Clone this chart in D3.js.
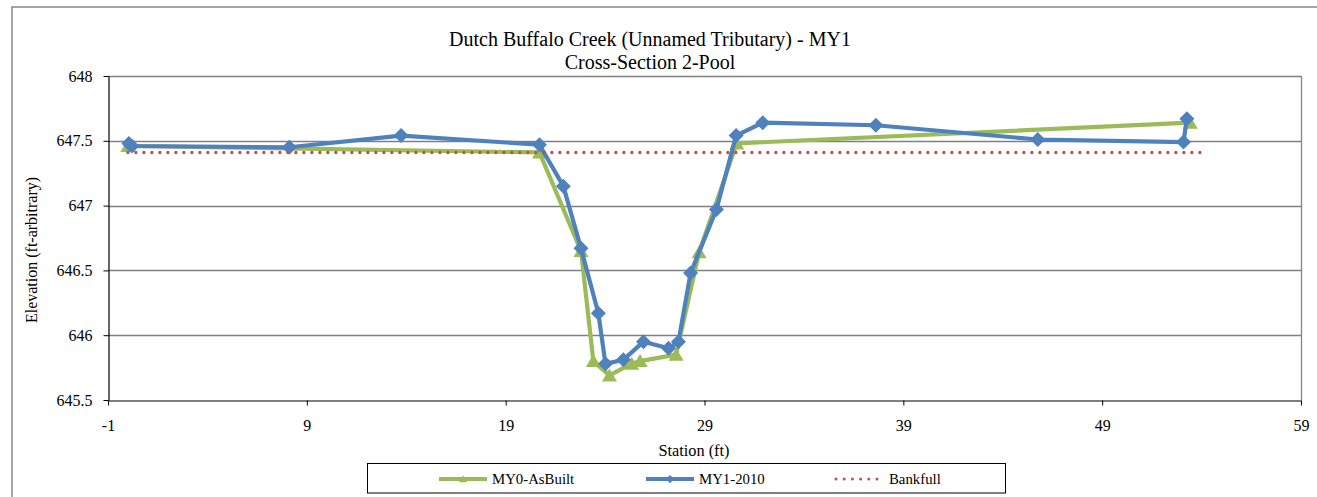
<!DOCTYPE html>
<html lang="en">
<head>
    <meta charset="UTF-8">
    <title>Cross-Section 2-Pool</title>
    <style>
        body{
            margin: 0;
            overflow: hidden;
            background: #fff;
        }
        text{
            font-family: "Liberation Serif", "Times New Roman", serif;
            fill: #000;
        }
    </style>
</head>
<body>
    <script src="https://d3js.org/d3.v7.min.js"></script>
    <script>
        // chart values
        const asBuiltStation = [0.0, 20.7, 22.79, 23.41, 24.22, 25.34, 25.76, 27.57, 28.73, 30.62, 53.43];
        const asBuiltElev    = [647.46, 647.41, 646.65, 645.80, 645.69, 645.78, 645.80, 645.85, 646.64, 647.48, 647.64];

        const my1Station = [0.05, 0.2, 8.12, 13.74, 20.7, 21.9, 22.79, 23.66, 24.02, 24.92, 25.93, 27.19, 27.69, 28.3, 29.6, 30.59, 31.93, 37.62, 45.76, 53.09, 53.26];
        const my1Elev    = [647.48, 647.46, 647.45, 647.54, 647.47, 647.15, 646.67, 646.17, 645.78, 645.81, 645.95, 645.90, 645.95, 646.48, 646.97, 647.54, 647.64, 647.62, 647.51, 647.49, 647.67];

        const bankfullStation = [0.0, 54.0];
        const bankfullElev    = [647.41, 647.41];

        const xTicks = [-1, 9, 19, 29, 39, 49, 59];
        const yTicks = [645.5, 646, 646.5, 647, 647.5, 648];

        const titleLines = ["Dutch Buffalo Creek (Unnamed Tributary) - MY1", "Cross-Section 2-Pool"];

        const width = 1317, height = 497;
        const plot = {left: 108, right: 1301, top: 76, bottom: 400};

        const svg = d3.select('body').append('svg')
            .attr('width', width)
            .attr('height', height);

        // outer chart border (runs past the right/bottom edge like the source)
        svg.append('rect')
            .attr('x', 12).attr('y', 7)
            .attr('width', 1320).attr('height', 500)
            .attr('fill', 'none')
            .attr('stroke', '#868686')
            .attr('stroke-width', 1.5);

        const x = d3.scaleLinear().domain([-1, 59]).range([plot.left, plot.right]);
        const y = d3.scaleLinear().domain([645.5, 648]).range([plot.bottom, plot.top]);

        // gridlines
        svg.append('g')
            .selectAll('line')
            .data(yTicks.filter(d => d > 645.5))
            .enter().append('line')
            .attr('x1', plot.left).attr('x2', plot.right)
            .attr('y1', d => Math.round(y(d)) + 0.5)
            .attr('y2', d => Math.round(y(d)) + 0.5)
            .attr('stroke', '#7f7f7f')
            .attr('stroke-width', 1.3);

        // right border of plot area
        svg.append('line')
            .attr('x1', plot.right + 0.5).attr('x2', plot.right + 0.5)
            .attr('y1', plot.top).attr('y2', plot.bottom)
            .attr('stroke', '#868686')
            .attr('stroke-width', 1.3);

        // axes
        const xAxis = svg.append('g')
            .attr('transform', `translate(0,${plot.bottom + 0.5})`)
            .call(d3.axisBottom(x).tickValues(xTicks).tickSize(5).tickSizeOuter(0).tickPadding(14).tickFormat(d => d));
        const yAxis = svg.append('g')
            .attr('transform', `translate(${plot.left + 0.5},0)`)
            .call(d3.axisLeft(y).tickValues(yTicks).tickSize(5).tickSizeOuter(0).tickPadding(11).tickFormat(d => d));

        [xAxis, yAxis].forEach(a => {
            a.select('.domain').attr('stroke', '#000').attr('stroke-width', 1.2);
            a.selectAll('.tick line').attr('stroke', '#000');
            a.selectAll('.tick text')
                .style('font-family', '"Liberation Serif", "Times New Roman", serif')
                .style('font-size', '16px')
                .attr('fill', '#000');
        });

        // titles
        svg.append('text')
            .attr('x', 650).attr('y', 46)
            .attr('text-anchor', 'middle')
            .style('font-size', '20px')
            .text(titleLines[0]);
        svg.append('text')
            .attr('x', 650).attr('y', 68.5)
            .attr('text-anchor', 'middle')
            .style('font-size', '20px')
            .text(titleLines[1]);

        svg.append('text')
            .attr('x', 694).attr('y', 456)
            .attr('text-anchor', 'middle')
            .style('font-size', '16.3px')
            .text('Station (ft)');

        svg.append('text')
            .attr('transform', `translate(37,${(plot.top + plot.bottom) / 2 + 12}) rotate(-90)`)
            .attr('text-anchor', 'middle')
            .style('font-size', '16px')
            .text('Elevation (ft-arbitrary)');

        // series
        const line = d3.line().x(d => x(d[0])).y(d => y(d[1]));
        const triangle = 'M0,-7L7.5,6L-7.5,6Z';
        const diamond = 'M0,-7.5L7.5,0L0,7.5L-7.5,0Z';

        const series = [
            {name: 'MY0-AsBuilt', pts: d3.zip(asBuiltStation, asBuiltElev), color: '#9BBB59', marker: triangle, dotted: false},
            {name: 'MY1-2010', pts: d3.zip(my1Station, my1Elev), color: '#4F81BD', marker: diamond, dotted: false},
            {name: 'Bankfull', pts: d3.zip(bankfullStation, bankfullElev), color: '#C0504D', marker: null, dotted: true}
        ];

        series.forEach(s => {
            const g = svg.append('g');
            g.append('path')
                .datum(s.pts)
                .attr('d', line)
                .attr('fill', 'none')
                .attr('stroke', s.color)
                .attr('stroke-width', s.dotted ? 3.4 : 4.2)
                .attr('stroke-linejoin', 'round')
                .attr('stroke-linecap', s.dotted ? 'round' : 'butt')
                .attr('stroke-dasharray', s.dotted ? '0,8' : null);
            if (s.marker) {
                g.selectAll('path.m')
                    .data(s.pts)
                    .enter().append('path')
                    .attr('class', 'm')
                    .attr('d', s.marker)
                    .attr('transform', d => `translate(${x(d[0])},${y(d[1])})`)
                    .attr('fill', s.color);
            }
        });

        // legend
        const legend = svg.append('g');
        legend.append('rect')
            .attr('x', 367.5).attr('y', 463.5)
            .attr('width', 638).attr('height', 29.5)
            .attr('fill', '#fff')
            .attr('stroke', '#000')
            .attr('stroke-width', 1);

        const legendX = [439, 646, 836];
        series.forEach((s, i) => {
            const lx = legendX[i], ly = 479;
            const w = s.dotted ? 41 : 48;
            legend.append('line')
                .attr('x1', lx).attr('x2', lx + w)
                .attr('y1', ly).attr('y2', ly)
                .attr('stroke', s.color)
                .attr('stroke-width', s.dotted ? 3 : 4)
                .attr('stroke-linecap', s.dotted ? 'round' : 'butt')
                .attr('stroke-dasharray', s.dotted ? '0,8.2' : null);
            if (s.marker) {
                legend.append('path')
                    .attr('d', s.marker)
                    .attr('transform', `translate(${lx + w / 2},${ly}) scale(0.55)`)
                    .attr('fill', s.color);
            }
            legend.append('text')
                .attr('x', lx + w + (s.dotted ? 12 : 5)).attr('y', ly + 5)
                .style('font-size', '14.8px')
                .text(s.name);
        });
    </script>
</body>
</html>
